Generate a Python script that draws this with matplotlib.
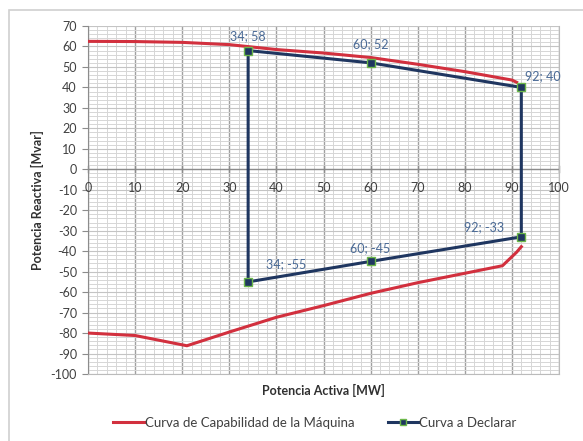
import matplotlib
matplotlib.use("Agg")
import matplotlib.pyplot as plt
from matplotlib.patches import Rectangle
from matplotlib.lines import Line2D
from matplotlib.ticker import MultipleLocator

# Capability curve (upper and lower branches)
cap_upper_x = [0, 10, 20, 30, 40, 50, 60, 70, 80, 90, 91]
cap_upper_y = [62.5, 62.4, 62.0, 60.9, 58.5, 56.8, 54.6, 51.3, 47.7, 43.6, 42.5]
cap_lower_x = [0, 10, 21, 30, 40, 50, 60, 70, 80, 88, 91, 92]
cap_lower_y = [-80, -81.2, -86.2, -79.5, -72.3, -66.6, -60.6, -55.4, -50.8, -47.1, -40.5, -37.8]

# Declared curve
decl_x = [34, 60, 92, 92, 60, 34, 34]
decl_y = [58, 52, 40, -33, -45, -55, 58]
label_pts_x = [34, 60, 92, 92, 60, 34]
label_pts_y = [58, 52, 40, -33, -45, -55]

x_ticks = list(range(0, 101, 10))
y_ticks = list(range(-100, 71, 10))

plt.rcParams['font.family'] = ['Lato', 'DejaVu Sans']
plt.rcParams['axes.unicode_minus'] = False

fig = plt.figure(figsize=(5.83, 4.41), dpi=100)
fig.patches.append(Rectangle((9/583, -0.1), 1.2, 1 - 10/441 + 0.1, transform=fig.transFigure,
                             fill=False, edgecolor='#d0d0d0', linewidth=1.2))
ax = fig.add_axes([88/583, 1 - 374/441, (559 - 88)/583, (374 - 26)/441])

ax.set_xlim(0, 100)
ax.set_ylim(-100, 70)
ax.xaxis.set_major_locator(MultipleLocator(10))
ax.xaxis.set_minor_locator(MultipleLocator(2))
ax.yaxis.set_major_locator(MultipleLocator(10))
ax.yaxis.set_minor_locator(MultipleLocator(2))
ax.grid(which='minor', color='#d6d6d6', linewidth=0.7)
ax.grid(which='major', axis='y', color='#c4c4c4', linewidth=0.8)
ax.grid(which='major', axis='x', color='#a0a0a0', linewidth=1.0)
ax.set_axisbelow(True)

ax.spines['top'].set_visible(False)
ax.spines['right'].set_color('#bbbbbb')
ax.spines['bottom'].set_color('#bbbbbb')
ax.spines['left'].set_color('#8c8c8c')
ax.axhline(0, color='#8c8c8c', linewidth=1.0, zorder=1)

ax.tick_params(axis='both', which='minor', length=0)
ax.tick_params(axis='y', which='major', length=4, color='#8c8c8c', labelsize=9, labelcolor='#404040', pad=4)
ax.tick_params(axis='x', which='major', length=0, labelbottom=False)
for xv in x_ticks:
    ax.plot([xv, xv], [-1.5, 1.5], color='#8c8c8c', linewidth=1.0, zorder=1, clip_on=False)
    ax.text(xv, -9.1, str(xv), ha='center', va='center', fontsize=9, color='#404040')
ax.set_yticks(y_ticks)

ax.plot(cap_upper_x, cap_upper_y, color='#d2303e', linewidth=2.2, zorder=3)
ax.plot(cap_lower_x, cap_lower_y, color='#d2303e', linewidth=2.2, zorder=3)
ax.plot(decl_x, decl_y, color='#1f3660', linewidth=2.2, zorder=4)
ax.plot(label_pts_x, label_pts_y, linestyle='none', marker='s', markersize=6,
        markerfacecolor='#1f3660', markeredgecolor='#6cb84a', markeredgewidth=1.0, zorder=5)

# label placement: (dx px, dy px, ha)
placements = [(0, 14, 'center'), (0, 19, 'center'), (4, 11, 'left'),
              (-17, 10, 'right'), (0, 13, 'center'), (18, 18, 'left')]
for px, py, (dx, dy, ha) in zip(label_pts_x, label_pts_y, placements):
    ax.annotate(f"{px}; {py}", (px, py), xytext=(dx, dy), textcoords='offset pixels',
                ha=ha, va='center', fontsize=9, color='#4a6a96', zorder=6)

ax.set_xlabel('Potencia Activa [MW]', fontsize=9, fontweight='bold', color='#303030', labelpad=4)
ax.set_ylabel('Potencia Reactiva [Mvar]', fontsize=9, fontweight='bold', color='#303030', labelpad=5)

h1 = Line2D([], [], color='#d2303e', linewidth=2.2)
h2 = Line2D([], [], color='#1f3660', linewidth=2.2, marker='s', markersize=5,
            markerfacecolor='#1f3660', markeredgecolor='#6cb84a')
fig.legend([h1, h2], ['Curva de Capabilidad de la Máquina', 'Curva a Declarar'],
           loc='center', bbox_to_anchor=(315/583, 1 - 423/441), ncol=2, frameon=False,
           fontsize=9.5, handlelength=2.3, handletextpad=0.1, columnspacing=2.5,
           labelcolor='#404040')

fig.savefig('out.png', dpi=100)
